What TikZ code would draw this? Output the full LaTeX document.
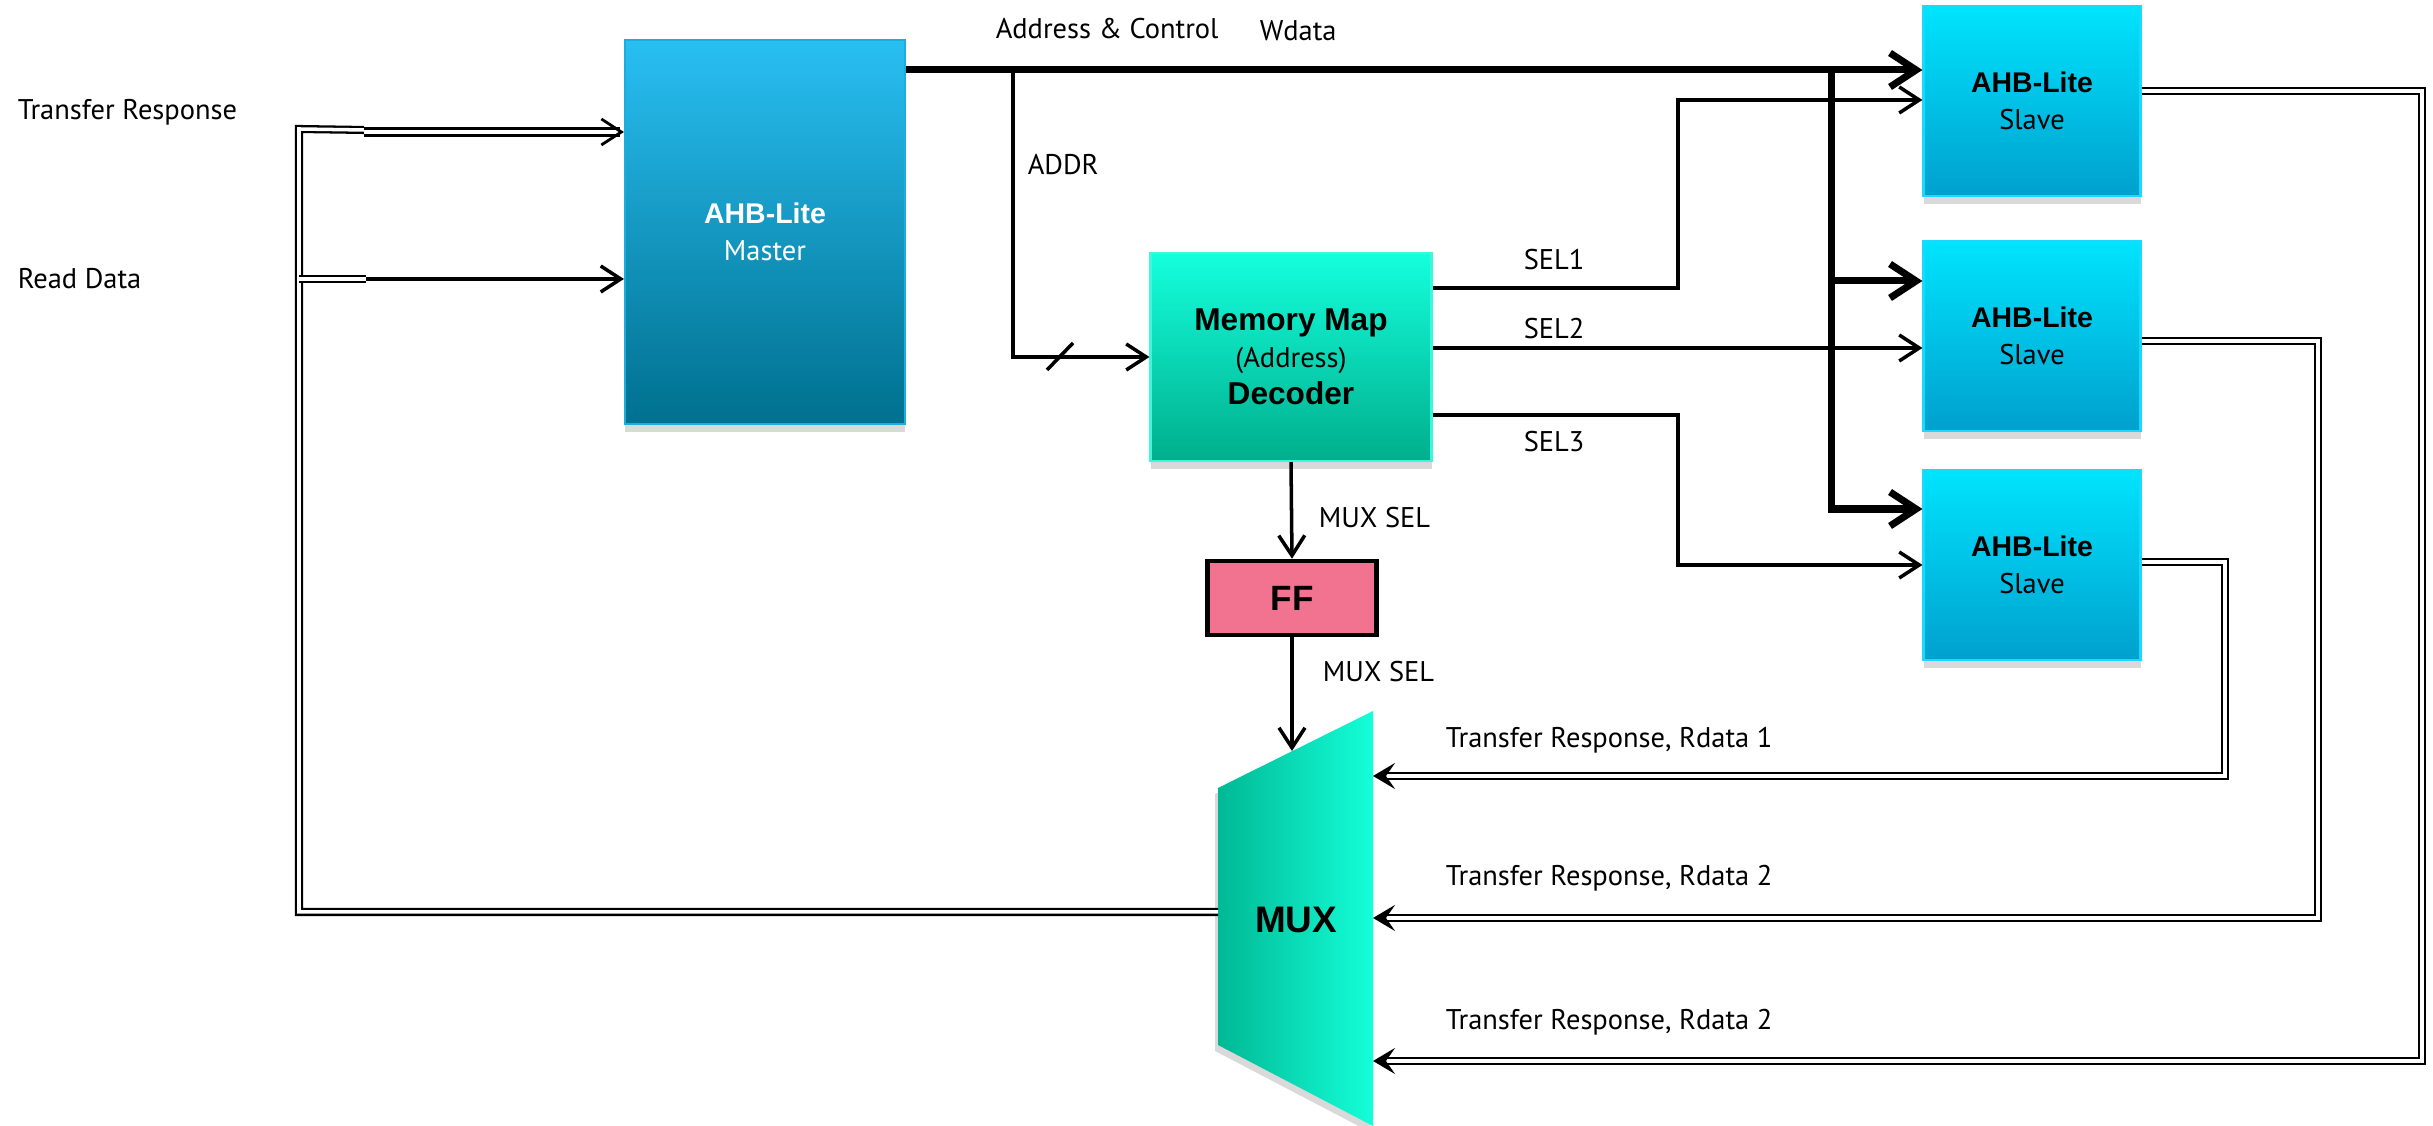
\documentclass[tikz,border=0pt]{standalone}
\usepackage{fontspec}
\setmainfont{PT Sans}
\newfontfamily\arialfont{Liberation Sans}
\newcommand\hdfont{\arialfont\bfseries}
\usetikzlibrary{arrows.meta,shadows}
\definecolor{mastertop}{HTML}{29BFF2}
\definecolor{masterbot}{HTML}{00708F}
\definecolor{masteredge}{HTML}{1AAEE0}
\definecolor{slavetop}{HTML}{00E4FE}
\definecolor{slavebot}{HTML}{00A0CE}
\definecolor{slaveedge}{HTML}{19D9FF}
\definecolor{dectop}{HTML}{14FFDD}
\definecolor{decbot}{HTML}{00AE8C}
\definecolor{decedge}{HTML}{3CF7D9}
\definecolor{muxleft}{HTML}{00B894}
\definecolor{muxmid}{HTML}{02E6C2}
\definecolor{muxright}{HTML}{14FFD8}
\definecolor{ffpink}{HTML}{F2738F}
\begin{document}
\begin{tikzpicture}[x=.1mm,y=-.1mm,line width=1pt,
  font=\fontsize{8.1}{10.5}\selectfont,
  >={Straight Barb[length=2mm,width=2.6mm]},
  box/.style={inner sep=0pt,align=center,line width=.6pt,
    drop shadow={shadow xshift=0pt,shadow yshift=-.8mm,opacity=.3}},
  slave/.style={box,draw=slaveedge,top color=slavetop,bottom color=slavebot,
    minimum width=21.7mm,minimum height=19mm},
  bus/.style={line width=2pt,>={Straight Barb[length=2.6mm,width=3.4mm]}},
  dbl/.style={double,line width=.65pt,double distance=1pt,>={Stealth[length=2.2mm,width=2.6mm,inset=.9mm]}},
  lbl/.style={anchor=west,inner sep=0pt}]
  \useasboundingbox (0,0) rectangle (2433,1126);
  \node[box,draw=masteredge,top color=mastertop,bottom color=masterbot,text=white,
    minimum width=28mm,minimum height=38.4mm] (master) at (765,232) {{\hdfont AHB-Lite}\\Master};
  \node[box,draw=decedge,top color=dectop,bottom color=decbot,
    minimum width=28.1mm,minimum height=20.8mm] (dec) at (1291,357)
    {{\hdfont\fontsize{9}{10.5}\selectfont Memory Map}\\(Address)\\{\hdfont\fontsize{9}{10.5}\selectfont Decoder}};
  \node[slave] (s1) at (2032,101) {{\hdfont AHB-Lite}\\Slave};
  \node[slave] (s2) at (2032,336) {{\hdfont AHB-Lite}\\Slave};
  \node[slave] (s3) at (2032,565) {{\hdfont AHB-Lite}\\Slave};
  \node[draw,line width=1.3pt,fill=ffpink,inner sep=0pt,minimum width=16.9mm,minimum height=7.4mm]
    (ff) at (1292,598) {\hdfont\fontsize{10}{12}\selectfont FF};
  \coordinate (mux-nw) at (1218,788);
  \coordinate (mux-ne) at (1373,711);
  \coordinate (mux-se) at (1373,1126);
  \coordinate (mux-sw) at (1218,1045);
  \shade[left color=muxleft,middle color=muxmid,right color=muxright,
    drop shadow={shadow xshift=-.3mm,shadow yshift=-.6mm,opacity=.3}]
    (mux-nw) -- (mux-ne) -- (mux-se) -- (mux-sw) -- cycle;
  \node (mux) at (1296,920) {\hdfont\fontsize{10.5}{12}\selectfont MUX};
  \coordinate (tap) at (1831,70);
  \coordinate (addrtap) at (1013,70);
  \coordinate (trtap) at (364,130);
  \coordinate (rdtap) at (366,279);
  \draw[bus,->] (master.east |- tap) -- (s1.west |- tap);
  \draw[bus,->] (tap) |- (s3.west |- 0,509);
  \draw[bus,->] (tap |- 0,281) -- (s2.west |- 0,281);
  \draw[->] (addrtap) |- (dec.west);
  \draw (1047,370) -- (1073,343);
  \draw[->] (dec.east |- 0,288) -| (1678,100) -- (s1.west |- 0,100);
  \draw[->] (dec.east |- 0,348) -- (s2.west |- 0,348);
  \draw[->] (dec.east |- 0,415) -| (1678,565) -- (s3.west);
  \draw[->] (dec.south) -- (ff.north);
  \draw[->] (ff.south) -- (ff.south |- 0,751);
  \draw[dbl,->] (s3.east |- 0,562) -| (2225,776) -- (mux-ne |- 0,776);
  \draw[dbl,->] (s2.east |- 0,341) -| (2318,918) -- (mux-ne |- 0,918);
  \draw[dbl,->] (s1.east |- 0,91) -| (2422,1061) -- (mux-ne |- 0,1061);
  \draw[dbl] (mux-nw |- 0,912) -| (299,129) -- (trtap);
  \draw[double,line width=.8pt,double distance=1.4pt,->] (trtap |- 0,132) -- (master.west |- 0,132);
  \draw[dbl] (299,279) -- (rdtap);
  \draw[->] (rdtap) -- (master.west |- rdtap);
  \node[lbl] (trlbl) at (16,112) {Transfer Response};
  \node[lbl] (rdlbl) at (16,279) {Read Data};
  \node[lbl] (aclbl) at (994,29) {Address \& Control};
  \node[lbl] (wdlbl) at (1258,31) {Wdata};
  \node[lbl] (addrlbl) at (1026,165) {ADDR};
  \node[lbl] (sel1lbl) at (1522,260) {SEL1};
  \node[lbl] (sel2lbl) at (1522,329) {SEL2};
  \node[lbl] (sel3lbl) at (1522,442) {SEL3};
  \node[lbl] (mslbl1) at (1317,518) {MUX SEL};
  \node[lbl] (mslbl2) at (1321,672) {MUX SEL};
  \node[lbl] (rd1lbl) at (1444,740) {Transfer Response, Rdata 1};
  \node[lbl] (rd2lbl) at (1444,878) {Transfer Response, Rdata 2};
  \node[lbl] (rd3lbl) at (1444,1022) {Transfer Response, Rdata 2};
\end{tikzpicture}
\end{document}
